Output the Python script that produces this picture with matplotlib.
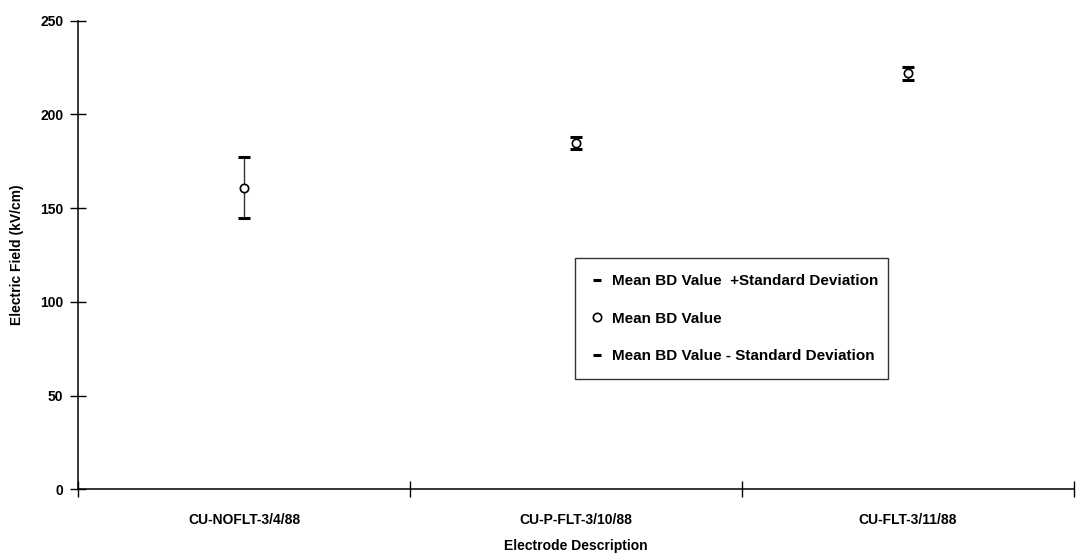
import matplotlib
matplotlib.use("Agg")
import matplotlib.pyplot as plt
import numpy as np

plt.rcParams['font.family'] = ['Liberation Sans', 'DejaVu Sans']

categories = ["CU-NOFLT-3/4/88", "CU-P-FLT-3/10/88", "CU-FLT-3/11/88"]
mean_bd = [161.0, 185.0, 222.0]
std_dev = [16.5, 3.2, 3.5]
y_ticks = [0, 50, 100, 150, 200, 250]

upper = [m + s for m, s in zip(mean_bd, std_dev)]
lower = [m - s for m, s in zip(mean_bd, std_dev)]
x = np.arange(1, len(categories) + 1)

fig = plt.figure(figsize=(10.81, 5.6), dpi=100)
ax = fig.add_axes([0.0722, 0.1263, 0.9213, 0.8367])

# connecting high-low lines
ax.vlines(x, lower, upper, colors='#333333', linewidth=1.0, zorder=2)

ax.plot(x, upper, linestyle='none', marker='_', markersize=9, markeredgewidth=2.2,
        color='black', label='Mean BD Value  +Standard Deviation', zorder=3)
ax.plot(x, mean_bd, linestyle='none', marker='o', markersize=6, markerfacecolor='white',
        markeredgecolor='black', markeredgewidth=1.2, label='Mean BD Value', zorder=4)
ax.plot(x, lower, linestyle='none', marker='_', markersize=9, markeredgewidth=2.2,
        color='black', label='Mean BD Value - Standard Deviation', zorder=3)

ax.set_xlim(0.5, len(categories) + 0.5)
ax.set_ylim(0, 250)

for side in ('top', 'right'):
    ax.spines[side].set_visible(False)
for side in ('left', 'bottom'):
    ax.spines[side].set_linewidth(1.1)

fs = 10
ax.set_yticks(y_ticks)
ax.set_yticklabels([str(v) for v in y_ticks], fontsize=fs, fontweight='bold')
ax.tick_params(axis='y', direction='inout', length=11, width=1.0, pad=5)

ax.set_xticks(np.arange(0.5, len(categories) + 1.0, 1.0))
ax.set_xticklabels([])
ax.tick_params(axis='x', which='major', direction='inout', length=11, width=1.0)
ax.set_xticks(x, minor=True)
ax.set_xticklabels(categories, minor=True, fontsize=fs, fontweight='bold')
ax.tick_params(axis='x', which='minor', length=0, pad=17)

ax.set_xlabel('Electrode Description', fontsize=fs, fontweight='bold', labelpad=9)
ax.set_ylabel('Electric Field (kV/cm)', fontsize=fs, fontweight='bold', labelpad=12)

leg_fs = 11
leg = ax.legend(loc='upper left', bbox_to_anchor=(0.499, 0.227, 0.314, 0.267), mode='expand',
                frameon=True, fancybox=False, edgecolor='black',
                prop={'weight': 'bold', 'size': leg_fs}, handlelength=0.8, handletextpad=0.6,
                labelspacing=1.55, borderpad=1.05, borderaxespad=0)
leg.get_frame().set_linewidth(1.0)
for h in leg.legend_handles:
    h.set_markersize(6)

fig.savefig('out.png', dpi=100, facecolor='white')
